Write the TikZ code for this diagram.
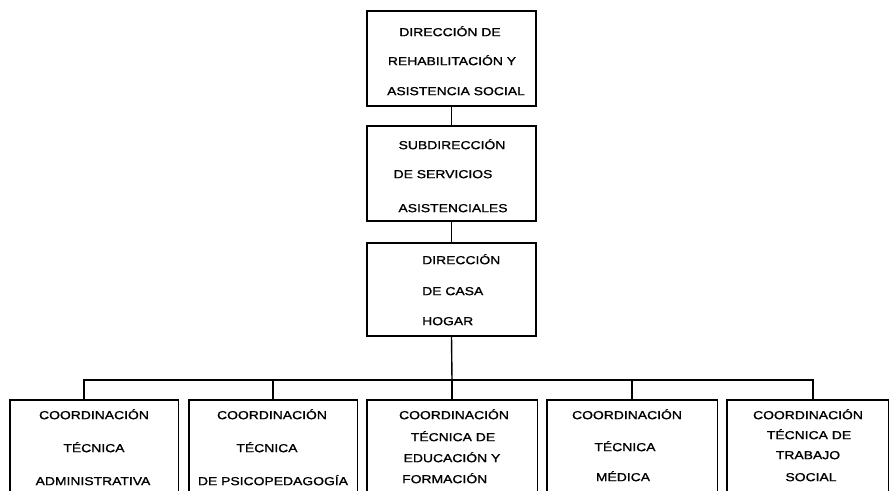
\documentclass[tikz,border=0pt]{standalone}
\usepackage{fontspec}
\setmainfont{Liberation Sans}[FakeStretch=1.2,FakeBold=1.2]
\begin{document}
\begin{tikzpicture}[x=1pt,y=-1pt,
  ln/.style={line width=1.4pt, black},
  box/.style={draw, ln, inner sep=0pt, minimum width=169pt},
  openbox/.style={inner sep=0pt, minimum height=92pt},
  lbl/.style={inner sep=0pt, text height=8.3pt, text depth=0pt,
    font=\fontsize{11.6}{14}\selectfont}]
\useasboundingbox (0,0) rectangle (891,490);
% top boxes
\node[box, minimum height=95pt] (T1) at (451.5,58.5) {};
\node[box, minimum height=95pt] (T2) at (451.5,173.5) {};
\node[box, minimum height=93pt] (T3) at (451.5,289.5) {};
% texts T1
\node[lbl] (t1a) at (450,32) {DIRECCIÓN DE};
\node[lbl] (t1b) at (452,61) {REHABILITACIÓN Y};
\node[lbl] (t1c) at (456,91) {ASISTENCIA SOCIAL};
% texts T2
\node[lbl] (t2a) at (452,145) {SUBDIRECCIÓN};
\node[lbl] (t2b) at (443,174) {DE SERVICIOS};
\node[lbl] (t2c) at (453,208) {ASISTENCIALES};
% texts T3
\node[lbl, anchor=west] (t3a) at (422,260) {DIRECCIÓN};
\node[lbl, anchor=west] (t3b) at (422,291) {DE CASA};
\node[lbl, anchor=west] (t3c) at (422,321) {HOGAR};
% bottom boxes (open at the bottom)
\node[openbox, minimum width=168pt] (B1) at (94,446) {};
\node[openbox, minimum width=168pt] (B2) at (273,446) {};
\node[openbox, minimum width=170pt] (B3) at (452,446) {};
\node[openbox, minimum width=170pt] (B4) at (632,446) {};
\node[openbox, minimum width=161pt] (B5) at (807.5,446) {};
\foreach \b in {B1,B2,B3,B4,B5}
  \draw[ln] (\b.south west) |- (\b.north east) -- (\b.south east);
% connectors
\draw[ln] (T1.south) -- (T2.north);
\draw[ln] (T2.south) -- (T3.north);
\coordinate (bus) at (452,380);
\draw[ln] (T3.south) -- (bus);
\draw[ln] ([xshift=-10pt]B1.north) -- ++(0,-20) -| ([xshift=5.5pt]B5.north);
\draw[ln] (B2.north) -- ++(0,-20);
\draw[ln] (B3.north) -- (bus);
\draw[ln] (B4.north) -- ++(0,-20);
% bottom texts
\node[lbl] (b1a) at (94,415) {COORDINACIÓN};
\node[lbl] (b1b) at (94,448) {TÉCNICA};
\node[lbl] (b1c) at (93,481) {ADMINISTRATIVA};
\node[lbl] (b2a) at (272,415) {COORDINACIÓN};
\node[lbl] (b2b) at (267,448) {TÉCNICA};
\node[lbl] (b2c) at (273,481) {DE PSICOPEDAGOGÍA};
\node[lbl] (b3a) at (454,415) {COORDINACIÓN};
\node[lbl] (b3b) at (453,437) {TÉCNICA DE};
\node[lbl] (b3c) at (452,458) {EDUCACIÓN Y};
\node[lbl, anchor=west] (b3d) at (402,479) {FORMACIÓN};
\node[lbl] (b4a) at (627,415) {COORDINACIÓN};
\node[lbl] (b4b) at (625,447) {TÉCNICA};
\node[lbl] (b4c) at (623,477) {MÉDICA};
\node[lbl] (b5a) at (808,415) {COORDINACIÓN};
\node[lbl] (b5b) at (809,435) {TÉCNICA DE};
\node[lbl] (b5c) at (808,455) {TRABAJO};
\node[lbl] (b5d) at (811,477) {SOCIAL};
\end{tikzpicture}
\end{document}
